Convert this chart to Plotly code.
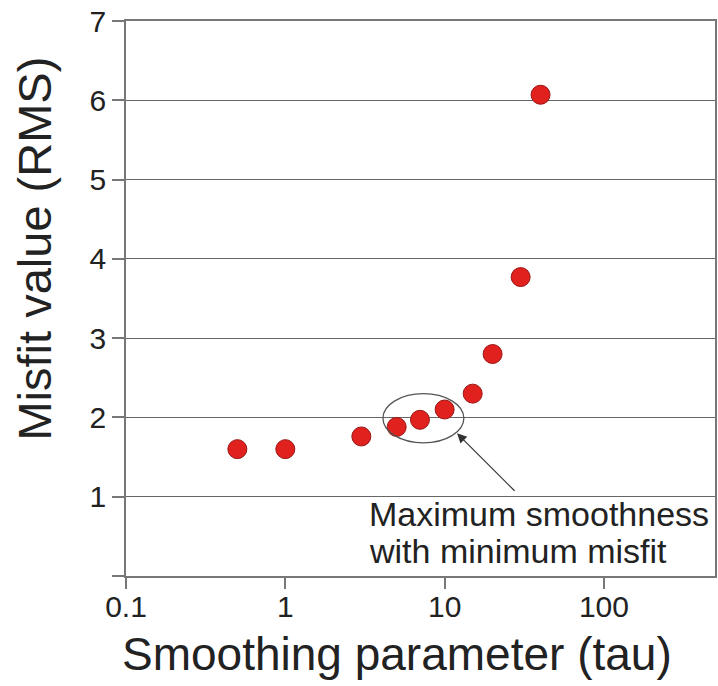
import plotly.graph_objects as go

# Data
tau = [0.5, 1.0, 3.0, 5.0, 7.0, 10.0, 15.0, 20.0, 30.0, 40.0]
rms = [1.60, 1.60, 1.76, 1.88, 1.97, 2.10, 2.30, 2.80, 3.77, 6.07]

x_tickvals = [0.1, 1, 10, 100]
x_ticktext = ["0.1", "1", "10", "100"]
y_tickvals = [0, 1, 2, 3, 4, 5, 6, 7]
y_ticktext = ["", "1", "2", "3", "4", "5", "6", "7"]

x_title = "Smoothing parameter (tau)"
y_title = "Misfit value (RMS)"
note_lines = ["Maximum smoothness", "with minimum misfit"]

FONT = "Liberation Sans, Arial, sans-serif"
TXT = "#222222"

fig = go.Figure()
fig.add_trace(go.Scatter(
    x=tau, y=rms, mode="markers",
    marker=dict(size=19, color="#e0211d", line=dict(color="#9a1616", width=1)),
    showlegend=False,
))

fig.update_layout(
    width=718, height=686,
    margin=dict(l=126, r=3, t=21, b=110, autoexpand=False),
    paper_bgcolor="white", plot_bgcolor="white",
    font=dict(family=FONT, color=TXT),
    xaxis=dict(
        type="log", range=[-1, 2.697], automargin=False,
        tickvals=x_tickvals, ticktext=x_ticktext,
        ticks="outside", ticklen=11, tickcolor="#777777", tickwidth=1.5,
        ticklabelstandoff=-8, ticklabeloverflow="allow",
        showgrid=False, zeroline=False,
        showline=True, mirror=True, linecolor="#777777", linewidth=1.5,
        tickfont=dict(size=30, family=FONT, color=TXT),
    ),
    yaxis=dict(
        range=[0, 7], automargin=False,
        tickvals=y_tickvals, ticktext=y_ticktext,
        ticks="outside", ticklen=12, tickcolor="#777777", tickwidth=1.5,
        ticklabeloverflow="allow",
        showgrid=True, gridcolor="#666666", gridwidth=1.3,
        zeroline=False,
        showline=True, mirror=True, linecolor="#777777", linewidth=1.5,
        tickfont=dict(size=30, family=FONT, color=TXT),
    ),
)

# Ellipse around the optimum points
fig.add_shape(type="circle", xref="x", yref="y",
              x0=4.1, x1=13.2, y0=1.68, y1=2.30,
              line=dict(color="#555555", width=1.3), layer="above")

# Arrow pointing at the ellipse
fig.add_annotation(x=1.078, y=1.80, xref="x", yref="y", text="",
                   showarrow=True, axref="pixel", ayref="pixel", ax=59, ay=59,
                   arrowhead=2, arrowsize=1.6, arrowwidth=1.2, arrowcolor="#333333")

# Note text (two lines)
for line, ypos in zip(note_lines, [0.1126, 0.0459]):
    fig.add_annotation(x=0.4092, y=ypos, xref="paper", yref="paper",
                       text=line, showarrow=False, align="left",
                       xanchor="left", yanchor="middle",
                       font=dict(size=34, family=FONT, color=TXT))

# Axis titles
fig.add_annotation(x=0.46, y=-0.1405, xref="paper", yref="paper",
                   text=x_title, showarrow=False,
                   xanchor="center", yanchor="middle",
                   font=dict(size=46, family=FONT, color=TXT))
fig.add_annotation(x=-0.1545, y=0.590, xref="paper", yref="paper",
                   text=y_title, showarrow=False, textangle=-90,
                   xanchor="center", yanchor="middle",
                   font=dict(size=47, family=FONT, color=TXT))

fig.write_html("out.html",
               config={"displayModeBar": False},
               post_script="document.body.style.margin='0';document.body.style.overflow='hidden';")
